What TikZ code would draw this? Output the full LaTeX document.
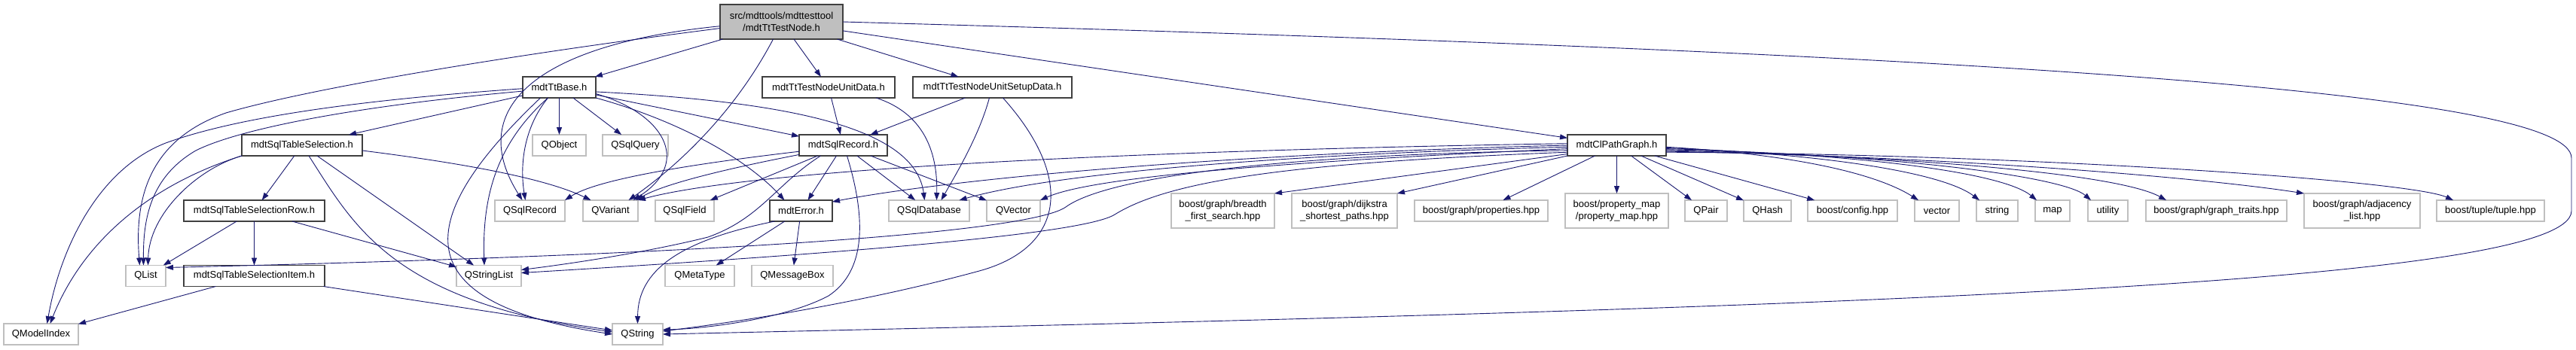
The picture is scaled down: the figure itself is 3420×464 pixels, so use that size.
\documentclass[tikz,border=0pt]{standalone}
\usepackage{fontspec}
\setmainfont{Liberation Sans}
\usetikzlibrary{arrows.meta}
\definecolor{edgeblue}{HTML}{191970}
\definecolor{docline}{HTML}{404040}
\definecolor{extline}{HTML}{BFBFBF}
\tikzset{
  filebox/.style={
    rectangle,
    line width=1.4pt,
    fill=white,
    minimum height=28pt,
    inner sep=0pt,
    outer sep=0pt,
    align=center,
    font=\fontsize{13pt}{16.7pt}\selectfont
  },
  docbox/.style={filebox, draw=docline},
  extbox/.style={filebox, draw=extline},
  rootbox/.style={filebox, draw=docline, fill=extline, minimum height=46pt},
  twoline/.style={minimum height=46pt},
  incl/.style={draw=edgeblue, line width=0.9pt, -{Triangle[length=10pt,width=7pt]}}
}

\begin{document}
\begin{tikzpicture}[x=1pt, y=-1pt]
  \path[use as bounding box, fill=white] (0,0) rectangle (3420,464);

  % the file itself
  \node[rootbox, minimum width=163pt] (root) at (1037.5,29) {src/mdttools/mdttesttool\\/mdtTtTestNode.h};

  % first level
  \node[docbox, minimum width=97pt]  (base)      at (742.5,116) {mdtTtBase.h};
  \node[docbox, minimum width=176pt] (unitdata)  at (1100,116)  {mdtTtTestNodeUnitData.h};
  \node[docbox, minimum width=211pt] (setupdata) at (1317.5,116) {mdtTtTestNodeUnitSetupData.h};

  % second level
  \node[docbox, minimum width=160pt] (tablesel)  at (401,193)    {mdtSqlTableSelection.h};
  \node[extbox, minimum width=71pt]  (qobject)   at (742.5,193)  {QObject};
  \node[extbox, minimum width=87pt]  (qsqlquery) at (843.5,193)  {QSqlQuery};
  \node[docbox, minimum width=117pt] (sqlrecord) at (1119.5,193) {mdtSqlRecord.h};
  \node[docbox, minimum width=131pt] (pathgraph) at (2146.5,193) {mdtClPathGraph.h};

  % third level
  \node[docbox, minimum width=187pt] (selrow)       at (337.5,280)  {mdtSqlTableSelectionRow.h};
  \node[extbox, minimum width=93pt]  (qsqlrecord)   at (703.5,280)  {QSqlRecord};
  \node[extbox, minimum width=73pt]  (qvariant)     at (810.5,280)  {QVariant};
  \node[extbox, minimum width=78pt]  (qsqlfield)    at (909,280)    {QSqlField};
  \node[docbox, minimum width=83pt]  (mdterror)     at (1063.5,280) {mdtError.h};
  \node[extbox, minimum width=107pt] (qsqldatabase) at (1233.5,280) {QSqlDatabase};
  \node[extbox, minimum width=71pt]  (qvector)      at (1345.5,280) {QVector};
  \node[extbox, twoline, minimum width=137pt] (bfs)      at (1623.5,280) {boost/graph/breadth\\\_first\_search.hpp};
  \node[extbox, twoline, minimum width=140pt] (dijkstra) at (1785,280)   {boost/graph/dijkstra\\\_shortest\_paths.hpp};
  \node[extbox, minimum width=177pt] (properties)   at (1966.5,280) {boost/graph/properties.hpp};
  \node[extbox, twoline, minimum width=137pt] (propmap)  at (2146.5,280) {boost/property\_map\\/property\_map.hpp};
  \node[extbox, minimum width=56pt]  (qpair)        at (2265,280)   {QPair};
  \node[extbox, minimum width=63pt]  (qhash)        at (2346.5,280) {QHash};
  \node[extbox, minimum width=119pt] (bconfig)      at (2459.5,280) {boost/config.hpp};
  \node[extbox, minimum width=59pt]  (vector)       at (2571.5,280) {vector};
  \node[extbox, minimum width=55pt]  (string)       at (2651.5,280) {string};
  \node[extbox, minimum width=46pt]  (map)          at (2725,280)   {map};
  \node[extbox, minimum width=53pt]  (utility)      at (2798.5,280) {utility};
  \node[extbox, minimum width=187pt] (graphtraits)  at (2942.5,280) {boost/graph/graph\_traits.hpp};
  \node[extbox, twoline, minimum width=154pt] (adjlist) at (3136,280) {boost/graph/adjacency\\\_list.hpp};
  \node[extbox, minimum width=143pt] (tuple)        at (3306.5,280) {boost/tuple/tuple.hpp};

  % fourth and fifth level
  \node[extbox, minimum width=53pt]  (qlist)       at (193.5,366.5) {QList};
  \node[docbox, minimum width=187pt] (selitem)     at (337.5,366.5) {mdtSqlTableSelectionItem.h};
  \node[extbox, minimum width=86pt]  (qstringlist) at (649,366.5)   {QStringList};
  \node[extbox, minimum width=92pt]  (qmetatype)   at (929,366.5)   {QMetaType};
  \node[extbox, minimum width=108pt] (qmessagebox) at (1052,366.5)  {QMessageBox};
  \node[extbox, minimum width=99pt]  (qmodelindex) at (54.5,444)    {QModelIndex};
  \node[extbox, minimum width=67pt]  (qstring)     at (846.5,444)   {QString};

  % includes of the file itself
  \draw[incl] (root) -- (base);
  \draw[incl] (root) -- (unitdata);
  \draw[incl] (root) -- (setupdata);
  \draw[incl] (root) -- (pathgraph);
  \draw[incl] (root.184) .. controls (700,60) and (620,150) .. ([xshift=-10pt]qsqlrecord.north);
  \draw[incl] (root.186) .. controls (700,70) and (420,115) .. (300,150) .. controls (200,185) and (178,260) .. ([xshift=-8pt]qlist.north);
  \draw[incl] ([xshift=-11pt]root.south) .. controls (975,150) and (900,220) .. ([xshift=24pt]qvariant.north);
  \draw[incl] (root.east) .. controls (2600,70) and (3414,120) .. (3414,210) -- (3414,280)
    .. controls (3414,380) and (2400,410) .. (qstring.east);

  % mdtTtBase.h
  \draw[incl] (base) -- (tablesel);
  \draw[incl] (base) -- (qobject);
  \draw[incl] (base) -- (qsqlquery);
  \draw[incl] (base) -- (sqlrecord);
  \draw[incl] (base.182) .. controls (520,130) and (330,150) .. (220,190) .. controls (130,225) and (80,330) .. ([xshift=8pt]qmodelindex.north);
  \draw[incl] (base.186) .. controls (480,140) and (320,170) .. (260,200) .. controls (200,235) and (190,290) .. ([xshift=-3pt]qlist.north);
  \draw[incl] ([xshift=-25pt]base.south) .. controls (560,280) and (520,400) .. (qstring.west);
  \draw[incl] ([xshift=-15pt]base.south) .. controls (695,170) and (690,220) .. ([xshift=-6pt]qsqlrecord.north);
  \draw[incl] ([xshift=-15pt]base.south) .. controls (660,190) and (640,260) .. ([xshift=-6pt]qstringlist.north);
  \draw[incl] (base.350) .. controls (880,150) and (920,215) .. ([xshift=30pt]qvariant.north);
  \draw[incl] (base.353) .. controls (1050,135) and (1215,170) .. ([xshift=-6pt]qsqldatabase.north);
  \draw[incl] (base.south east) .. controls (900,160) and (990,210) .. ([xshift=-22pt]mdterror.north);

  % mdtSqlTableSelection.h
  \draw[incl] (tablesel) -- (selrow);
  \draw[incl] (tablesel) -- (qstringlist);
  \draw[incl] (tablesel.south west) .. controls (260,225) and (198,285) .. ([xshift=3pt]qlist.north);
  \draw[incl] (tablesel.south west) .. controls (200,245) and (110,320) .. ([xshift=12pt]qmodelindex.north);
  \draw[incl] ([xshift=9pt]tablesel.south) .. controls (470,300) and (520,400) .. ([yshift=3pt]qstring.west);
  \draw[incl] (tablesel.355) .. controls (600,215) and (720,235) .. ([xshift=-26pt]qvariant.north);

  % mdtSqlTableSelectionRow.h, mdtSqlTableSelectionItem.h
  \draw[incl] (selrow) -- (qlist);
  \draw[incl] (selrow) -- (selitem);
  \draw[incl] (selrow) -- (qstringlist);
  \draw[incl] (selitem) -- (qmodelindex);
  \draw[incl] (selitem) -- (qstring);

  % test node unit data
  \draw[incl] (unitdata) -- (sqlrecord);
  \draw[incl] ([xshift=63pt]unitdata.south) .. controls (1225,150) and (1245,200) .. ([xshift=10pt]qsqldatabase.north);
  \draw[incl] (setupdata) -- (sqlrecord);
  \draw[incl] ([xshift=-4pt]setupdata.south) .. controls (1300,180) and (1270,230) .. ([xshift=16pt]qsqldatabase.north);
  \draw[incl] ([xshift=14pt]setupdata.south) .. controls (1430,240) and (1410,330) .. (1300,360)
    .. controls (1157,399) and (1000,425) .. ([yshift=4pt]qstring.east);

  % mdtSqlRecord.h
  \draw[incl] (sqlrecord.188) .. controls (900,220) and (790,240) .. (qsqlrecord.north east);
  \draw[incl] (sqlrecord.192) .. controls (960,225) and (880,245) .. ([xshift=34pt]qvariant.north);
  \draw[incl] (sqlrecord) -- (qsqlfield);
  \draw[incl] (sqlrecord) -- (mdterror);
  \draw[incl] (sqlrecord) -- (qsqldatabase);
  \draw[incl] (sqlrecord) -- (qvector);
  \draw[incl] ([xshift=5pt]sqlrecord.south) .. controls (1150,290) and (1150,360) .. (1100,393)
    .. controls (1040,425) and (930,437) .. ([yshift=6pt]qstring.east);
  \draw[incl] ([xshift=-30pt]sqlrecord.south) .. controls (1030,245) and (1010,290) .. (940,315)
    .. controls (860,335) and (760,350) .. ([yshift=8pt]qstringlist.east);

  % mdtError.h
  \draw[incl] ([xshift=-35pt]mdterror.south) .. controls (900,320) and (847,360) .. (qstring.north);
  \draw[incl] (mdterror) -- (qmetatype);
  \draw[incl] (mdterror) -- (qmessagebox);

  % mdtClPathGraph.h, to the left
  \draw[incl] (pathgraph.178) .. controls (1500,200) and (1000,225) .. (qvariant.north east);
  \draw[incl] (pathgraph.180) .. controls (1600,205) and (1250,240) .. (mdterror.16);
  \draw[incl] (pathgraph.182) .. controls (1700,205) and (1400,230) .. ([xshift=40pt]qsqldatabase.north);
  \draw[incl] (pathgraph.184) .. controls (1700,215) and (1450,235) .. (qvector.north east);
  \draw[incl] (pathgraph.186) .. controls (1700,205) and (1470,235) .. (1415,275)
    .. controls (1387,295) and (1200,332) .. ([yshift=11pt]qlist.east);
  \draw[incl] (pathgraph.188) .. controls (1750,215) and (1560,235) .. (1480,285)
    .. controls (1440,310) and (1150,335) .. ([yshift=4pt]qstringlist.east);
  \draw[incl] (pathgraph.190) -- (bfs.north east);
  \draw[incl] (pathgraph.south west) -- (dijkstra.north east);
  \draw[incl] (pathgraph) -- (properties);
  \draw[incl] (pathgraph) -- (propmap);
  \draw[incl] (pathgraph) -- (qpair);
  \draw[incl] (pathgraph) -- (qhash);
  \draw[incl] (pathgraph) -- (bconfig);

  % mdtClPathGraph.h, to the right
  \draw[incl] (pathgraph.358) .. controls (2380,205) and (2490,230) .. ([xshift=5pt]vector.north west);
  \draw[incl] (pathgraph.357) .. controls (2430,205) and (2580,230) .. ([xshift=4pt]string.north west);
  \draw[incl] (pathgraph.356) .. controls (2480,205) and (2660,230) .. ([xshift=2pt]map.north west);
  \draw[incl] (pathgraph.355) .. controls (2520,205) and (2740,235) .. ([xshift=4pt]utility.north west);
  \draw[incl] (pathgraph.354) .. controls (2600,210) and (2820,235) .. ([xshift=27pt]graphtraits.north west);
  \draw[incl] (pathgraph.353) .. controls (2650,210) and (2950,240) .. (adjlist.north west);
  \draw[incl] (pathgraph.352) .. controls (2700,205) and (3200,240) .. ([xshift=22pt]tuple.north west);
\end{tikzpicture}
\end{document}
